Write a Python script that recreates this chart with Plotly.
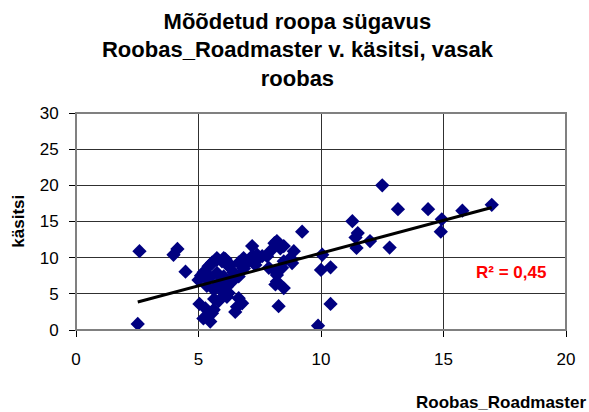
import numpy as np
import plotly.graph_objects as go

# Data (Roobas_Roadmaster vs käsitsi)
x_vals = [
    2.59, 2.52, 4.14, 3.98, 4.47,
    5.04, 5.28, 5.2, 5.48, 5.34, 5.62, 5.64, 5.55, 6.03, 6.23, 6.64, 6.57, 6.78, 6.5, 6.16, 5.82, 6.03,
    5.0, 5.1, 5.21, 5.3, 5.41, 5.48, 5.55, 5.75, 5.75, 5.96, 6.03, 6.1, 6.23, 6.3, 6.43, 6.3, 6.03,
    5.75, 5.48, 5.34, 5.62, 5.89, 5.82, 6.16, 6.37, 6.64, 6.85, 6.98, 6.64, 6.84, 7.19, 7.19, 7.39,
    7.39, 7.32, 7.6, 7.8, 7.93, 8.1, 8.2, 8.34, 8.48, 7.87, 8.14, 8.41, 8.2, 8.2, 8.14, 8.48, 8.27,
    8.89, 8.75, 8.48, 8.82, 9.23, 9.88,
    10.05, 10.0, 10.39, 10.39, 11.28, 11.5, 11.41, 11.45, 12.0, 12.5, 12.8, 13.14, 14.37, 14.93,
    14.89, 15.77, 16.97,
]
y_vals = [
    10.9, 0.83, 11.2, 10.4, 8.06,
    3.6, 3.0, 1.6, 1.16, 1.85, 2.8, 4.3, 2.3, 5.8, 5.1, 4.4, 3.2, 3.7, 2.5, 4.6, 4.0, 5.1,
    6.9, 7.5, 8.0, 7.2, 8.8, 9.0, 9.3, 9.7, 9.95, 9.5, 9.95, 9.8, 8.8, 9.0, 8.0, 7.0, 7.4,
    7.9, 7.3, 6.1, 5.6, 5.8, 6.5, 6.0, 6.7, 7.4, 8.5, 9.3, 9.3, 9.95, 10.2, 11.6, 10.4,
    9.7, 9.0, 10.2, 10.2, 10.9, 12.0, 12.3, 11.3, 11.6, 8.6, 8.1, 8.6, 7.6, 6.7, 6.3, 5.8, 3.3,
    10.9, 9.95, 9.5, 9.26, 13.6, 0.6,
    10.4, 8.3, 8.66, 3.6, 15.05, 13.4, 12.8, 11.35, 12.3, 20.0, 11.4, 16.7, 16.7, 15.3,
    13.6, 16.5, 17.3,
]
x_ticks = [0, 5, 10, 15, 20]
y_ticks = [0, 5, 10, 15, 20, 25, 30]

title_lines = ["Mõõdetud roopa sügavus", "Roobas_Roadmaster v. käsitsi, vasak", "roobas"]
x_title = "Roobas_Roadmaster"
y_title = "käsitsi"
r2_label = "R² = 0,45"

# Linear trend line fitted to the data
xa = np.array(x_vals)
ya = np.array(y_vals)
slope, intercept = np.polyfit(xa, ya, 1)
trend_x = np.array([xa.min(), xa.max()])
trend_y = slope * trend_x + intercept

FONT = "Liberation Sans, Arial, sans-serif"

fig = go.Figure()
fig.add_trace(go.Scatter(
    x=x_vals, y=y_vals, mode="markers",
    marker=dict(symbol="diamond", size=11, color="#000080", line=dict(width=0)),
    showlegend=False, hoverinfo="x+y",
))
fig.add_trace(go.Scatter(
    x=trend_x, y=trend_y, mode="lines",
    line=dict(color="black", width=3),
    showlegend=False, hoverinfo="skip",
))

fig.update_layout(
    width=589, height=412,
    margin=dict(l=76, r=23, t=113, b=82),
    paper_bgcolor="white", plot_bgcolor="white",
    font=dict(family=FONT, color="black"),
    title=dict(
        text="<br>".join(title_lines),
        x=0.505, xanchor="center", y=0.93, yanchor="top",
        font=dict(family=FONT, size=22, color="black", weight="bold"),
    ),
    xaxis=dict(
        range=[0, 20], tickvals=x_ticks, ticktext=[str(v) for v in x_ticks],
        showgrid=True, gridcolor="#303030", gridwidth=1,
        showline=True, linecolor="black", linewidth=1, mirror=False,
        ticks="outside", ticklen=6, tickcolor="black", ticklabelstandoff=8,
        tickfont=dict(size=17, family=FONT), zeroline=False, fixedrange=True,
    ),
    yaxis=dict(
        range=[0, 30], tickvals=y_ticks, ticktext=[str(v) for v in y_ticks],
        showgrid=True, gridcolor="#303030", gridwidth=1,
        showline=True, linecolor="black", linewidth=1, mirror=False,
        ticks="outside", ticklen=6, tickcolor="black", ticklabelstandoff=7,
        tickfont=dict(size=17, family=FONT), zeroline=False, fixedrange=True,
    ),
    shapes=[
        dict(type="rect", xref="paper", yref="paper", x0=0, x1=1, y0=0, y1=1,
             line=dict(color="#808080", width=2), fillcolor="rgba(0,0,0,0)", layer="above"),
    ],
    annotations=[
        dict(text=x_title, xref="paper", yref="paper", x=1.045, y=-0.336,
             xanchor="right", yanchor="middle", showarrow=False,
             font=dict(family=FONT, size=17, color="black", weight="bold")),
        dict(text=y_title, xref="paper", yref="paper", x=-0.118, y=0.5,
             xanchor="center", yanchor="middle", textangle=-90, showarrow=False,
             font=dict(family=FONT, size=17, color="black", weight="bold")),
        dict(text=r2_label, xref="paper", yref="paper", x=0.888, y=0.263,
             xanchor="center", yanchor="middle", showarrow=False,
             font=dict(family=FONT, size=17, color="#FF0000", weight="bold")),
    ],
)

fig.write_html(
    "out.html",
    config={"displayModeBar": False},
    post_script="document.body.style.margin='0';document.body.style.padding='0';",
)
